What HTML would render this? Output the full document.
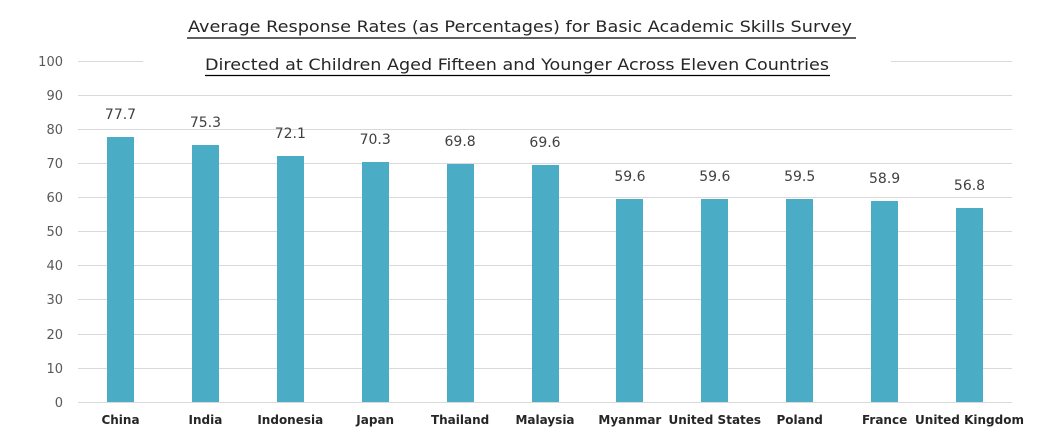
<!DOCTYPE html>
<html><head><meta charset="utf-8"><style>body{margin:0;background:#fff}svg{display:block}</style></head><body>
<svg width="1057" height="447" xmlns="http://www.w3.org/2000/svg" font-family="'DejaVu Sans','Liberation Sans',sans-serif">
<g stroke="#d9d9d9" stroke-width="1">
<line x1="78" x2="143" y1="61.5" y2="61.5"/><line x1="891" x2="1012" y1="61.5" y2="61.5"/>
<line x1="78" x2="1012" y1="95.5" y2="95.5"/><line x1="78" x2="1012" y1="129.5" y2="129.5"/>
<line x1="78" x2="1012" y1="163.5" y2="163.5"/><line x1="78" x2="1012" y1="197.5" y2="197.5"/>
<line x1="78" x2="1012" y1="231.5" y2="231.5"/><line x1="78" x2="1012" y1="265.5" y2="265.5"/>
<line x1="78" x2="1012" y1="299.5" y2="299.5"/><line x1="78" x2="1012" y1="334.5" y2="334.5"/>
<line x1="78" x2="1012" y1="368.5" y2="368.5"/><line x1="78" x2="1012" y1="402.5" y2="402.5"/>
</g>
<g fill="#595959" font-size="13" text-anchor="end">
<text x="63" y="66">100</text><text x="63" y="100">90</text><text x="63" y="134">80</text><text x="63" y="168">70</text><text x="63" y="202">60</text><text x="63" y="236">50</text><text x="63" y="270">40</text><text x="63" y="304">30</text><text x="63" y="339">20</text><text x="63" y="373">10</text><text x="63" y="407">0</text>
</g>
<g fill="#4bacc6">
<rect x="107" y="137" width="27" height="265"/>
<rect x="192" y="145" width="27" height="257"/>
<rect x="277" y="156" width="27" height="246"/>
<rect x="362" y="162" width="27" height="240"/>
<rect x="447" y="164" width="27" height="238"/>
<rect x="532" y="165" width="27" height="237"/>
<rect x="616" y="199" width="27" height="203"/>
<rect x="701" y="199" width="27" height="203"/>
<rect x="786" y="199" width="27" height="203"/>
<rect x="871" y="201" width="27" height="201"/>
<rect x="956" y="208" width="27" height="194"/>
</g>
<g fill="#404040" font-size="14" text-anchor="middle">
<text x="120.5" y="119">77.7</text><text x="205.4" y="127">75.3</text><text x="290.3" y="138">72.1</text><text x="375.2" y="144">70.3</text><text x="460.1" y="146">69.8</text><text x="545" y="147">69.6</text><text x="629.9" y="181">59.6</text><text x="714.8" y="181">59.6</text><text x="799.7" y="181">59.5</text><text x="884.6" y="183">58.9</text><text x="969.5" y="190">56.8</text>
</g>
<g fill="#262626" font-size="12" font-weight="bold" text-anchor="middle">
<text x="120.5" y="424">China</text><text x="205.4" y="424">India</text><text x="290.3" y="424">Indonesia</text><text x="375.2" y="424">Japan</text><text x="460.1" y="424">Thailand</text><text x="545" y="424">Malaysia</text><text x="629.9" y="424">Myanmar</text><text x="714.8" y="424">United States</text><text x="799.7" y="424">Poland</text><text x="884.6" y="424">France</text><text x="969.5" y="424">United Kingdom</text>
</g>
<g fill="#262626" font-size="16">
<text x="188" y="32" textLength="664" lengthAdjust="spacingAndGlyphs">Average Response Rates (as Percentages) for Basic Academic Skills Survey</text>
<text x="205" y="70" textLength="624" lengthAdjust="spacingAndGlyphs">Directed at Children Aged Fifteen and Younger Across Eleven Countries</text>
</g>
<g stroke="#000" stroke-width="1.2">
<line x1="187" x2="856" y1="38" y2="38"/><line x1="205" x2="830" y1="75.5" y2="75.5"/>
</g>
</svg>
</body></html>
